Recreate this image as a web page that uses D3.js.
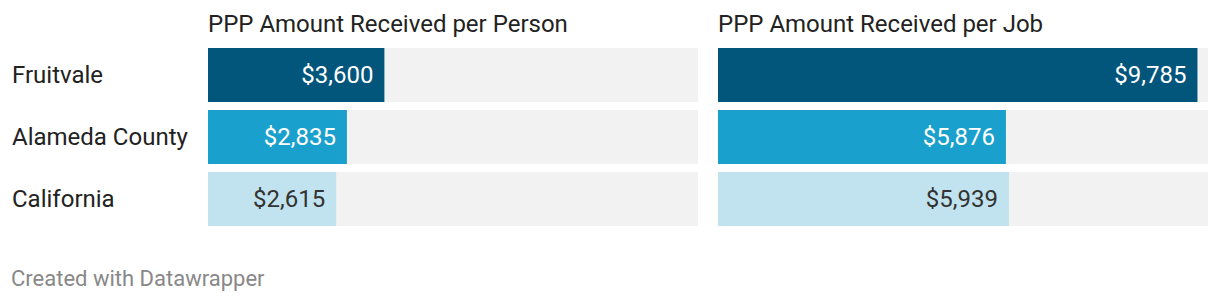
<!DOCTYPE html>
<html>
<head>
<meta charset="utf-8">
<script src="https://cdn.jsdelivr.net/npm/d3@7"></script>
<style>
  html, body { margin: 0; padding: 0; background: #fff; }
  svg { display: block; font-family: Roboto, sans-serif; }
</style>
</head>
<body>
<svg id="chart" width="1220" height="302"></svg>
<script>
const categories = ["Fruitvale", "Alameda County", "California"];
const panelTitles = ["PPP Amount Received per Person", "PPP Amount Received per Job"];
const perPerson = [3600, 2835, 2615];
const perJob = [9785, 5876, 5939];
const colors = ["#02557b", "#1aa0cc", "#c0e3ef"];
const textColors = ["#ffffff", "#ffffff", "#333333"];
const domainMax = 10000;

const svg = d3.select("#chart");
const fs = 24;

const y = d3.scaleBand().domain(categories).range([48, 226]).paddingInner(8 / 62).paddingOuter(0);
const panels = [
  { title: panelTitles[0], values: perPerson, x0: 208 },
  { title: panelTitles[1], values: perJob, x0: 718 }
];
const panelWidth = 490;

svg.append("g").selectAll("text").data(categories).join("text")
  .attr("x", 12)
  .attr("y", d => y(d) + y.bandwidth() / 2)
  .attr("dy", "0.35em")
  .attr("font-size", fs)
  .attr("fill", "#222")
  .text(d => d);

panels.forEach(p => {
  const x = d3.scaleLinear().domain([0, domainMax]).range([p.x0, p.x0 + panelWidth]);
  const g = svg.append("g");
  g.append("text")
    .attr("x", p.x0).attr("y", 32)
    .attr("font-size", fs).attr("fill", "#222")
    .text(p.title);
  g.selectAll("rect.bg").data(categories).join("rect")
    .attr("class", "bg")
    .attr("x", x(0)).attr("y", d => y(d))
    .attr("width", x(domainMax) - x(0)).attr("height", y.bandwidth())
    .attr("fill", "#f2f2f2");
  g.selectAll("rect.bar").data(categories).join("rect")
    .attr("class", "bar")
    .attr("x", x(0)).attr("y", d => y(d))
    .attr("width", (d, i) => x(p.values[i]) - x(0)).attr("height", y.bandwidth())
    .attr("fill", (d, i) => colors[i]);
  g.selectAll("text.val").data(categories).join("text")
    .attr("class", "val")
    .attr("x", (d, i) => x(p.values[i]) - 11)
    .attr("y", d => y(d) + y.bandwidth() / 2)
    .attr("dy", "0.35em")
    .attr("text-anchor", "end")
    .attr("font-size", fs)
    .attr("fill", (d, i) => textColors[i])
    .text((d, i) => "$" + d3.format(",")(p.values[i]));
});

svg.append("text")
  .attr("x", 11).attr("y", 286)
  .attr("font-size", 22).attr("fill", "#888")
  .text("Created with Datawrapper");
</script>
</body>
</html>
